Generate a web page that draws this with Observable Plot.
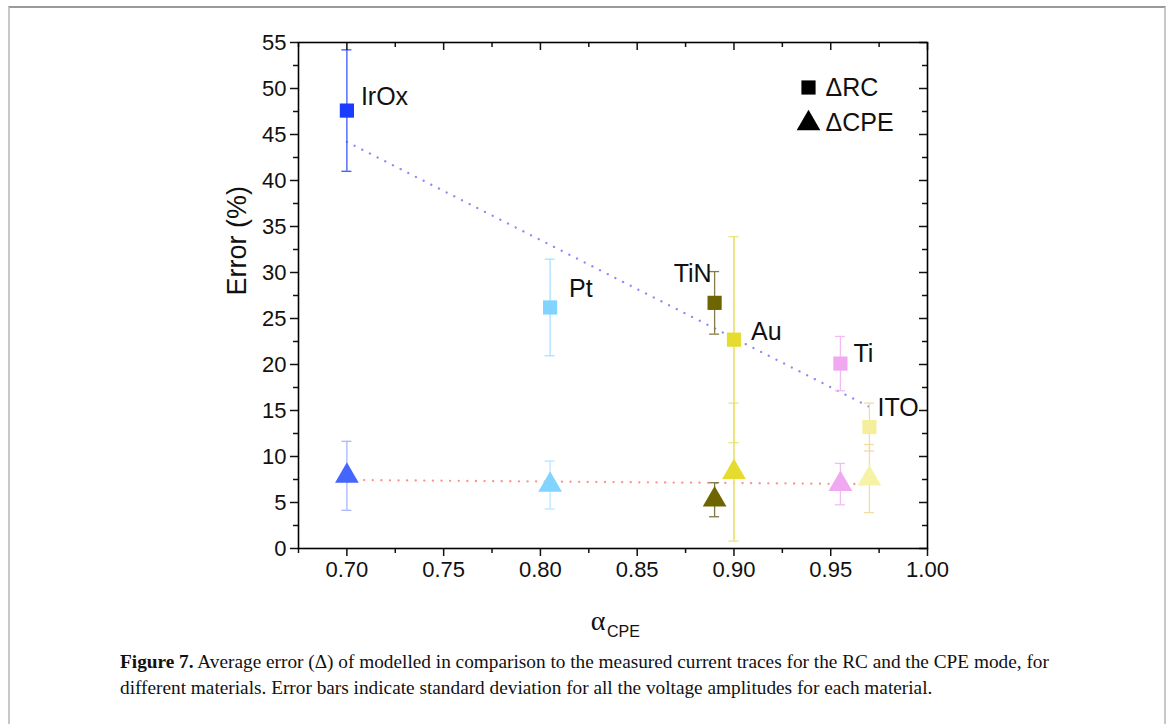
<!DOCTYPE html>
<html>
<head>
<meta charset="utf-8">
<script src="https://cdn.jsdelivr.net/npm/d3@7"></script>
<script src="https://cdn.jsdelivr.net/npm/@observablehq/plot@0.6"></script>
<style>
  body { margin: 0; background: #fff; width: 1168px; height: 724px; overflow: hidden; position: relative; }
  #frame { position: absolute; left: 8px; top: 6px; width: 1154px; height: 760px;
           border-top: 2px solid #9a9a9a; border-left: 2px solid #c8c8c8; border-right: 2px solid #c8c8c8; }
  #chart { position: absolute; left: 0; top: 0; }
  #caption { position: absolute; left: 120px; top: 649px; width: 1040px; white-space: nowrap;
             font-family: "Liberation Serif", "DejaVu Serif", serif; font-size: 19.3px; line-height: 26px; color: #111; }
</style>
</head>
<body>
<div id="frame"></div>
<div id="chart"></div>
<div id="caption"><b>Figure 7.</b> Average error (Δ) of modelled in comparison to the measured current traces for the RC and the CPE mode, for<br>different materials. Error bars indicate standard deviation for all the voltage amplitudes for each material.</div>
<script>
// ---- data ----
const materials = ["IrOx", "Pt", "TiN", "Au", "Ti", "ITO"];
const alphaCPE  = [0.700, 0.805, 0.890, 0.900, 0.955, 0.970];
const errorRC   = [47.6, 26.2, 26.7, 22.7, 20.1, 13.2];
const sdRC      = [6.6, 5.25, 3.4, 11.2, 2.95, 2.6];
const errorCPE  = [7.9, 6.9, 5.3, 8.3, 7.0, 7.6];
const sdCPE     = [3.75, 2.6, 1.85, 7.5, 2.25, 3.7];
// linear fit lines (end points)
const fitX      = [0.700, 0.970];
const fitRC     = [44.2, 15.4];
const fitCPE    = [7.45, 7.0];
const yTicks    = d3.range(0, 56, 5);
const yMinor    = d3.range(2.5, 55, 5);
const xTicks    = [0.70, 0.75, 0.80, 0.85, 0.90, 0.95, 1.00];
const xMinor    = [0.675, 0.725, 0.775, 0.825, 0.875, 0.925, 0.975];

// ---- styles ----
const sqColor  = ["#1a3cff", "#80d4ff", "#6e6400", "#e6dc30", "#f0a8f0", "#f5ef9c"];
const triColor = ["#4565ff", "#80d4ff", "#6e6400", "#e6dc30", "#f0a8f0", "#f7f3a6"];
const barRC    = ["#3a58ff", "#a6e2ff", "#857b48", "#ece47a", "#f2bcf2", "#f2dca6"];
const barCPE   = ["#a8b6ff", "#b8e8ff", "#7d7448", "#ece47a", "#f2bcf2", "#f2dca6"];
const barWidth = [1.3, 1.3, 1.3, 1.8, 1.3, 1.3];
const labelPos = [
  {dx: 14, dy: -14, anchor: "start"},
  {dx: 19, dy: -18, anchor: "start"},
  {dx: -3, dy: -29, anchor: "end"},
  {dx: 17, dy: -8, anchor: "start"},
  {dx: 13, dy: -10, anchor: "start"},
  {dx: 8,  dy: -19, anchor: "start"}
];

const rc = materials.map((m, i) => ({m, i, x: alphaCPE[i], y: errorRC[i], lo: errorRC[i] - sdRC[i], hi: errorRC[i] + sdRC[i]}));
const cpe = materials.map((m, i) => ({m, i, x: alphaCPE[i], y: errorCPE[i], lo: errorCPE[i] - sdCPE[i], hi: errorCPE[i] + sdCPE[i]}));
const fitRCData = fitX.map((x, i) => ({x, y: fitRC[i]}));
const fitCPEData = fitX.map((x, i) => ({x, y: fitCPE[i]}));

function errorBars(data, colors) {
  const caps = data.flatMap(d => [{...d, v: d.lo}, {...d, v: d.hi}]);
  return [
    Plot.ruleX(data, {x: "x", y1: "lo", y2: "hi", stroke: d => colors[d.i], strokeWidth: d => barWidth[d.i]}),
    Plot.ruleY(caps, {y: "v", x1: "x", x2: "x", insetLeft: -5, insetRight: -5, stroke: d => colors[d.i], strokeWidth: 1.3})
  ];
}

const W = 1168, H = 645, ML = 298, MR = 241, MT = 42, MB = 97;
const FW = W - ML - MR, FH = H - MT - MB;

const chart = Plot.plot({
  width: W,
  height: H,
  marginLeft: ML,
  marginRight: MR,
  marginTop: MT,
  marginBottom: MB,
  style: {fontFamily: "'Liberation Sans', Arial, sans-serif", fontSize: "22px", color: "#111", background: "transparent", overflow: "visible"},
  x: {domain: [0.675, 1.0]},
  y: {domain: [0, 55]},
  marks: [
    // fit lines
    Plot.line(fitRCData, {x: "x", y: "y", stroke: "#8c8cf8", strokeWidth: 2.3, strokeDasharray: "0.1,8.5", strokeLinecap: "round"}),
    Plot.line(fitCPEData, {x: "x", y: "y", stroke: "#ff9090", strokeWidth: 2.3, strokeDasharray: "0.1,8.5", strokeLinecap: "round"}),
    // error bars
    ...errorBars(rc, barRC),
    ...errorBars(cpe, barCPE),
    // markers
    Plot.dot(rc, {x: "x", y: "y", symbol: "square", r: 8, fill: d => sqColor[d.i], stroke: "none"}),
    Plot.dot(cpe, {x: "x", y: "y", symbol: "triangle", r: 8.8, fill: d => triColor[d.i], stroke: "none"}),
    // material labels
    ...rc.map(d => Plot.text([d], {x: "x", y: "y", text: "m", dx: labelPos[d.i].dx, dy: labelPos[d.i].dy, textAnchor: labelPos[d.i].anchor, fontSize: 25, fill: "#111"})),
    // axes: left/bottom outward, right/top inward
    Plot.axisY(yTicks, {anchor: "left", tickSize: 8, tickPadding: 4, strokeWidth: 1.5, label: null}),
    Plot.axisY(yMinor, {anchor: "left", tickSize: 5, text: null, strokeWidth: 1.5, label: null}),
    Plot.axisY(yTicks, {anchor: "left", dx: FW, tickSize: 8, text: null, strokeWidth: 1.5, label: null}),
    Plot.axisY(yMinor, {anchor: "left", dx: FW, tickSize: 5, text: null, strokeWidth: 1.5, label: null}),
    Plot.axisX(xTicks, {anchor: "bottom", tickSize: 8, tickPadding: 5, strokeWidth: 1.5, label: null, tickFormat: d3.format(".2f")}),
    Plot.axisX(xMinor, {anchor: "bottom", tickSize: 5, text: null, strokeWidth: 1.5, label: null}),
    Plot.axisX(xTicks, {anchor: "bottom", dy: -FH, tickSize: 8, text: null, strokeWidth: 1.5, label: null}),
    Plot.axisX(xMinor, {anchor: "bottom", dy: -FH, tickSize: 5, text: null, strokeWidth: 1.5, label: null}),
    Plot.frame({stroke: "#000", strokeWidth: 1.6}),
    // axis titles
    Plot.text(["Error (%)"], {frameAnchor: "left", dx: -61, rotate: -90, fontSize: 27, fill: "#111"}),
    Plot.text(["α"], {frameAnchor: "bottom", dx: -15, dy: 73, lineAnchor: "middle", fontSize: 28, fontFamily: "'Liberation Serif', serif", fill: "#111"}),
    Plot.text(["CPE"], {frameAnchor: "bottom", dx: -6, dy: 83, lineAnchor: "middle", textAnchor: "start", fontSize: 16, fill: "#111"}),
    // legend
    Plot.dot([0], {frameAnchor: "top-left", dx: 510, dy: 45, symbol: "square", r: 8, fill: "#000"}),
    Plot.text(["ΔRC"], {frameAnchor: "top-left", dx: 527, dy: 45, lineAnchor: "middle", textAnchor: "start", fontSize: 25, fill: "#111"}),
    Plot.dot([0], {frameAnchor: "top-left", dx: 510, dy: 81, symbol: "triangle", r: 8.8, fill: "#000"}),
    Plot.text(["ΔCPE"], {frameAnchor: "top-left", dx: 527, dy: 80, lineAnchor: "middle", textAnchor: "start", fontSize: 25, fill: "#111"})
  ]
});
document.getElementById("chart").appendChild(chart);
</script>
</body>
</html>
